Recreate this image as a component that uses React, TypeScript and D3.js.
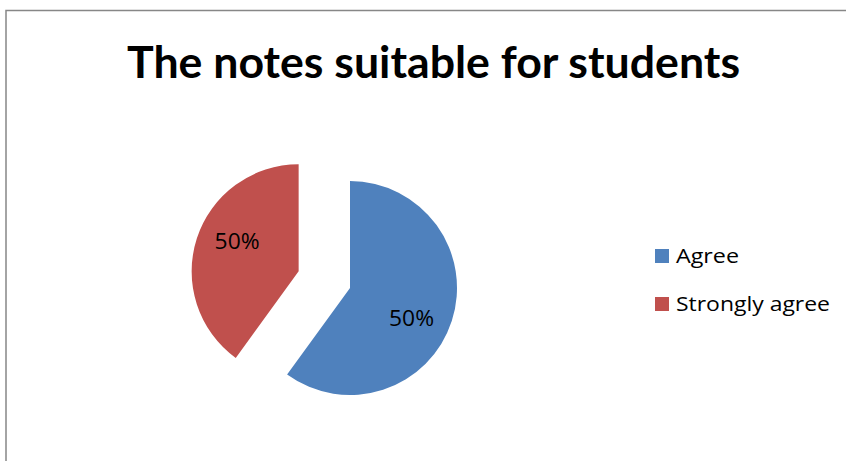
import React from "react";
import * as d3 from "d3";

const categories = ["Agree", "Strongly agree"];
const values = [60, 40];
const labels = ["50%", "50%"];
const colors = ["#4F81BD", "#C0504D"];
const explode = [0, 54];
const title = "The notes suitable for students";

export default function App() {
  const W = 846, H = 461;
  const cx = 350, cy = 288, r = 107;
  const pie = d3.pie<number>().sort(null).startAngle(0).endAngle(2 * Math.PI);
  const arcs = pie(values);
  const arc = d3.arc<d3.PieArcDatum<number>>().innerRadius(0).outerRadius(r);
  const labelR = r * 0.64;
  const labelShift = (8 * Math.PI) / 180;
  const font = "Lato, 'Open Sans', sans-serif";
  const labelFont = "'Open Sans', sans-serif";
  return (
    <svg width={W} height={H} style={{ position: "absolute", left: 0, top: 0, background: "#fff" }}>
      <rect x={0} y={0} width={W} height={H} fill="#fff" />
      <path d={`M6,${H} L6,10.5 L${W},10.5`} fill="none" stroke="#878787" strokeWidth={1.5} />
      <text x={433.5} y={78} textAnchor="middle" fontFamily={font} fontWeight={700} fontSize={44}
        textLength={613} lengthAdjust="spacingAndGlyphs" fill="#000">{title}</text>
      {arcs.map((a, i) => {
        const mid = (a.startAngle + a.endAngle) / 2;
        const dx = Math.sin(mid) * explode[i];
        const dy = -Math.cos(mid) * explode[i];
        const la = mid + labelShift;
        const lx = Math.sin(la) * labelR;
        const ly = -Math.cos(la) * labelR;
        return (
          <g key={i} transform={`translate(${cx + dx},${cy + dy})`}>
            <path d={arc(a) || ""} fill={colors[i]} />
            <text x={lx} y={ly} dy="0.36em" textAnchor="middle" fontFamily={labelFont} fontSize={21}
              textLength={45} lengthAdjust="spacingAndGlyphs" fill="#000">{labels[i]}</text>
          </g>
        );
      })}
      {categories.map((c, i) => (
        <g key={c} transform={`translate(655,${249 + i * 48})`}>
          <rect x={0} y={0} width={14} height={14} fill={colors[i]} />
          <text x={21} y={14} fontFamily={labelFont} fontSize={20} fill="#000"
            textLength={i === 0 ? 63 : 154} lengthAdjust="spacingAndGlyphs">{c}</text>
        </g>
      ))}
    </svg>
  );
}
